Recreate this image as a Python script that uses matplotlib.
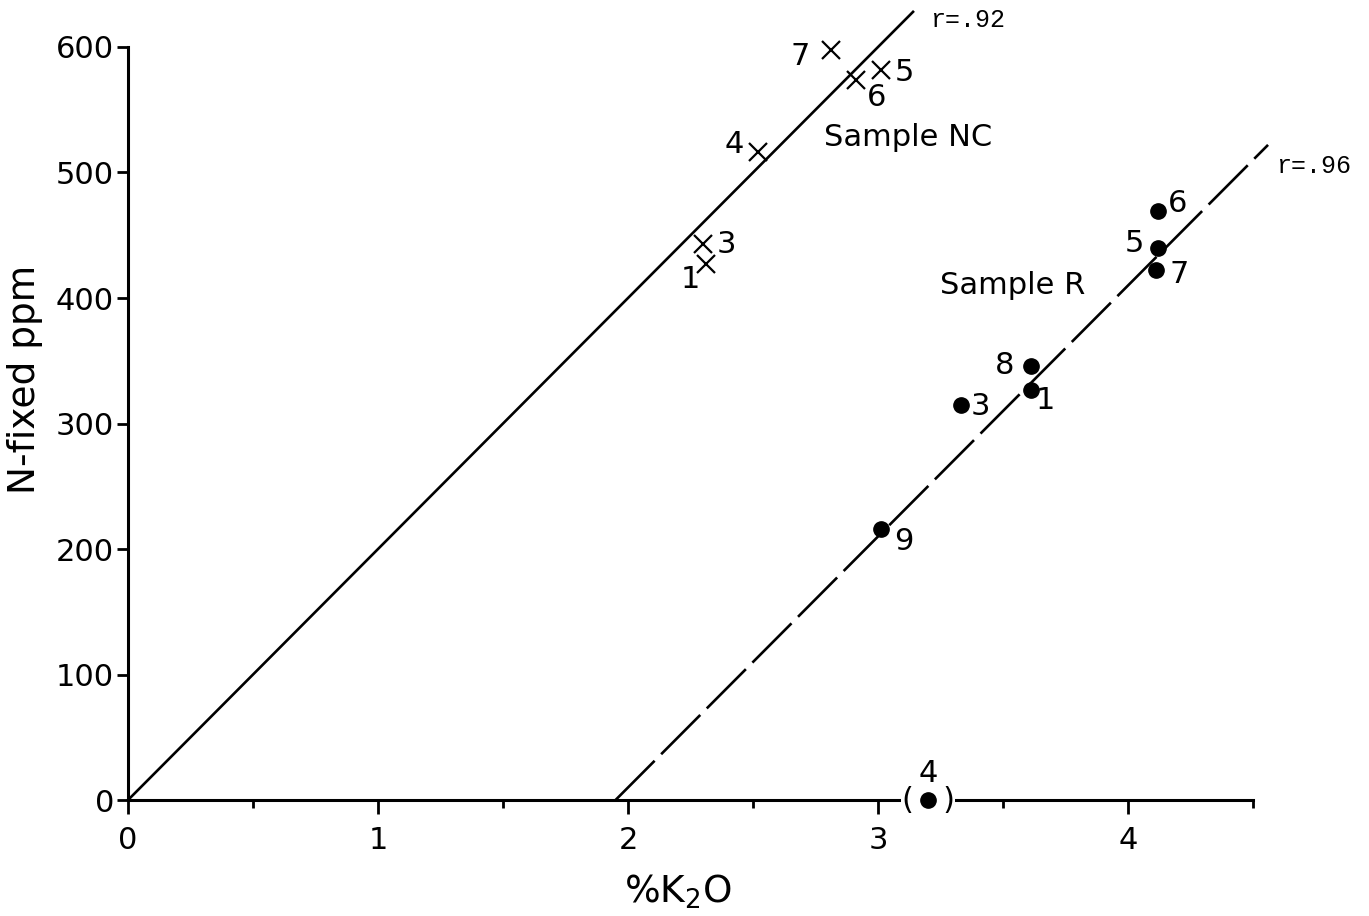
import matplotlib
matplotlib.use("Agg")
import matplotlib.pyplot as plt
from matplotlib.ticker import FixedLocator

# Sample NC (crosses): % K2O against fixed N (ppm)
nc_ids = ["1", "3", "4", "7", "6", "5"]
nc_k2o = [2.31, 2.30, 2.52, 2.81, 2.91, 3.01]
nc_nfix = [427, 443, 516, 598, 574, 582]

# Sample R (dots)
r_ids = ["6", "5", "7", "8", "1", "3", "9"]
r_k2o = [4.12, 4.12, 4.11, 3.61, 3.61, 3.33, 3.01]
r_nfix = [469, 440, 422, 346, 327, 315, 216]

# sample R no. 4 - left out of the fit, drawn in brackets
r_out_id = "4"
r_out_k2o = 3.20
r_out_nfix = 0

# regression lines (end points) and their r values
nc_fit_x = [0.0, 3.14]
nc_fit_y = [0, 628]
r_fit_x = [1.95, 4.56]
r_fit_y = [0, 522]
nc_r = "r=.92"
r_r = "r=.96"

xticks = [0, 1, 2, 3, 4]
xminor = [0.5, 1.5, 2.5, 3.5, 4.5]
yticks = [0, 100, 200, 300, 400, 500, 600]

# label offsets in points
nc_off = {"1": (-11, -11), "3": (17, 0), "4": (-17, 6), "7": (-22, -5),
          "6": (15, -13), "5": (17, -2)}
r_off = {"6": (14, 6), "5": (-17, 3), "7": (17, -3), "8": (-19, 0),
         "1": (11, -8), "3": (14, -1), "9": (17, -9)}

plt.rcParams['font.family'] = ['DejaVu Sans']
fs = 22

fig = plt.figure(figsize=(13.69, 9.16), dpi=100)
ax = fig.add_axes([0.0935, 0.1266, 0.8218, 0.8221])

ax.plot(nc_fit_x, nc_fit_y, color='black', lw=1.9, clip_on=False, zorder=2)
ax.plot(r_fit_x, r_fit_y, color='black', lw=1.9, ls=(0, (21, 3.5)),
        clip_on=False, zorder=2)

ax.plot(nc_k2o, nc_nfix, ls='none', marker='x', ms=13, mew=1.6,
        color='black', clip_on=False, zorder=4)
ax.plot(r_k2o, r_nfix, ls='none', marker='o', ms=11, color='black',
        clip_on=False, zorder=4)

for lab, x, y in zip(nc_ids, nc_k2o, nc_nfix):
    ax.annotate(lab, (x, y), xytext=nc_off[lab], textcoords='offset points',
                ha='center', va='center', fontsize=fs)
for lab, x, y in zip(r_ids, r_k2o, r_nfix):
    ax.annotate(lab, (x, y), xytext=r_off[lab], textcoords='offset points',
                ha='center', va='center', fontsize=fs)

# bracketed outlier sitting on the axis
ax.text(r_out_k2o, r_out_nfix, "(   )", ha='center', va='center', fontsize=fs,
        bbox=dict(facecolor='white', edgecolor='none', pad=0.5),
        clip_on=False, zorder=5)
ax.plot([r_out_k2o], [r_out_nfix], ls='none', marker='o', ms=11,
        color='black', clip_on=False, zorder=6)
ax.annotate(r_out_id, (r_out_k2o, r_out_nfix), xytext=(0, 19),
            textcoords='offset points', ha='center', va='center', fontsize=fs)

# r values at the top end of each line
ax.annotate(nc_r, (nc_fit_x[1], nc_fit_y[1]), xytext=(12, -6),
            textcoords='offset points', ha='left', va='center',
            fontsize=18, family='Liberation Mono', annotation_clip=False)
ax.annotate(r_r, (r_fit_x[1], r_fit_y[1]), xytext=(6, -15),
            textcoords='offset points', ha='left', va='center',
            fontsize=18, family='Liberation Mono', annotation_clip=False)

ax.text(3.12, 528, "Sample NC", ha='center', va='center', fontsize=fs)
ax.text(3.54, 410, "Sample R", ha='center', va='center', fontsize=fs)

ax.set_xlim(0, 4.5)
ax.set_ylim(0, 600)
ax.spines['top'].set_visible(False)
ax.spines['right'].set_visible(False)
ax.spines['left'].set_linewidth(2.2)
ax.spines['bottom'].set_linewidth(2.2)

ax.set_xticks(xticks)
ax.set_xticklabels([str(t) for t in xticks])
ax.xaxis.set_minor_locator(FixedLocator(xminor))
ax.set_yticks(yticks)
ax.set_yticklabels([str(t) for t in yticks])
ax.tick_params(axis='x', which='major', direction='out', length=10, width=2,
               pad=9, labelsize=fs)
ax.tick_params(axis='x', which='minor', direction='out', length=6, width=2)
ax.tick_params(axis='y', direction='out', length=8, width=2, pad=2,
               labelsize=fs)

ax.set_xlabel("%K$_2$O", fontsize=27)
ax.xaxis.set_label_coords(0.489, -0.096)
ax.set_ylabel("N-fixed ppm", fontsize=27)
ax.yaxis.set_label_coords(-0.0756, 0.559)

fig.savefig("out.png", dpi=100)
